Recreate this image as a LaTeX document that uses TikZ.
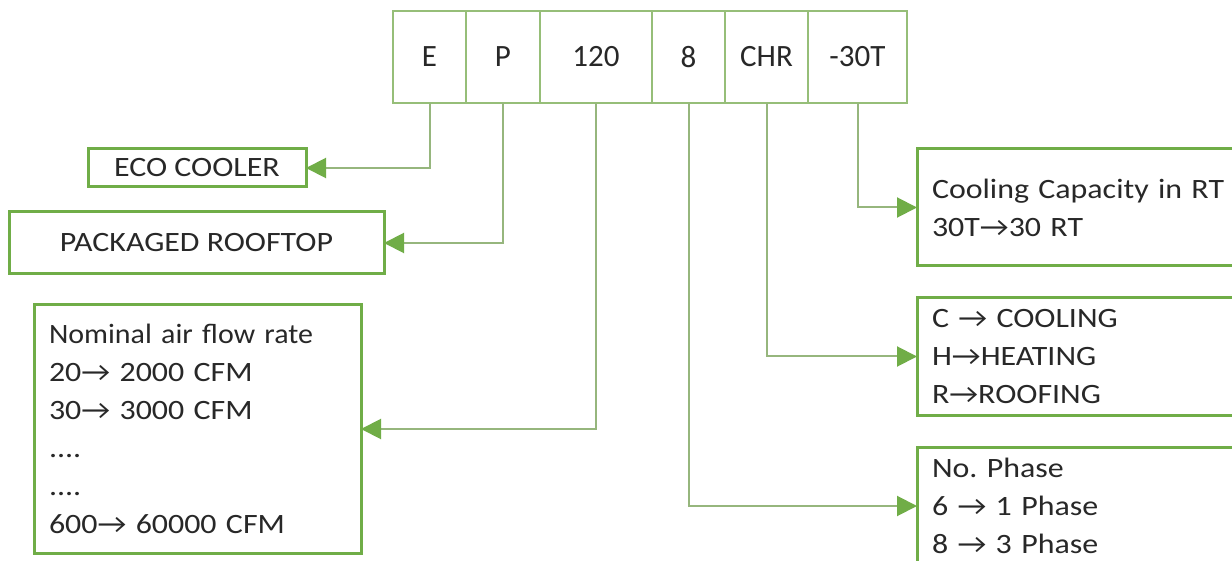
\documentclass[tikz,border=0pt]{standalone}
\usepackage{fix-cm}
\usepackage{fontspec}
\setmainfont{Carlito}[FakeStretch=1.14]
\newfontfamily\cellfont{Carlito}
\usetikzlibrary{arrows.meta}
\definecolor{boxgreen}{RGB}{112,173,71}
\definecolor{cellline}{RGB}{150,190,120}
\definecolor{linkgray}{RGB}{150,182,125}
\definecolor{txt}{RGB}{40,40,40}
\newcommand{\ra}{→}
\frenchspacing
\begin{document}
\begin{tikzpicture}[x=1pt,y=-1pt,
  cellbox/.style={draw=cellline, line width=1.8pt, minimum height=92pt, inner sep=0pt, outer sep=0pt,
    font=\cellfont\fontsize{31}{31}\selectfont, text=txt},
  infobox/.style={draw=boxgreen, line width=3pt, inner sep=0pt, outer sep=0pt,
    font=\fontsize{28}{38}\selectfont, text=txt},
  listbox/.style={infobox, align=left, inner xsep=15pt, inner ysep=0pt},
  link/.style={draw=linkgray, line width=2pt, -{Triangle[length=20pt,width=20pt,color=boxgreen]}}]
\clip (0,0) rectangle (1232,561);
\fill[white] (0,0) rectangle (1232,561);
% code cells
\node[cellbox, minimum width=73pt] (cE) at (429.5,57) {E};
\node[cellbox, minimum width=74pt] (cP) at (503,57) {P};
\node[cellbox, minimum width=112pt] (c120) at (596,57) {120};
\node[cellbox, minimum width=73pt] (c8) at (688.5,57) {8};
\node[cellbox, minimum width=83pt] (cCHR) at (766.5,57) {CHR};
\node[cellbox, minimum width=99pt] (c30T) at (857.5,57) {-30T};
% left boxes
\node[infobox, minimum width=218pt, minimum height=38pt] (eco) at (197,168) {ECO COOLER};
\node[infobox, minimum width=375pt, minimum height=62pt] (pack) at (196.5,243) {PACKAGED ROOFTOP};
\node[listbox, text width=297pt, minimum height=248pt] (nom) at (197.5,429)
  {{\addfontfeature{FakeStretch=1.07}Nominal air flow rate}\\20\ra{} 2000 CFM\\30\ra{} 3000 CFM\\....\\....\\600\ra{} 60000 CFM};
% right boxes
\node[listbox, text width=310pt, minimum height=117pt] (cool) at (1087,207.5)
  {Cooling Capacity in RT\\30T\ra30 RT};
\node[listbox, text width=310pt, minimum height=117pt] (chr) at (1087,356.5)
  {C \ra{} COOLING\\H\ra HEATING\\R\ra ROOFING};
\node[listbox, text width=310pt, minimum height=118pt] (phase) at (1087,506)
  {No. Phase\\6 \ra{} 1 Phase\\8 \ra{} 3 Phase};
% connectors
\draw[link] (cE.south) |- (eco.east);
\draw[link] (cP.south) |- (pack.east);
\draw[link] (c120.south) |- (nom.east);
\draw[link] (c8.south) |- (phase.west);
\draw[link] (cCHR.south) |- (chr.west);
\draw[link] (c30T.south) |- (cool.west);
\end{tikzpicture}
\end{document}
